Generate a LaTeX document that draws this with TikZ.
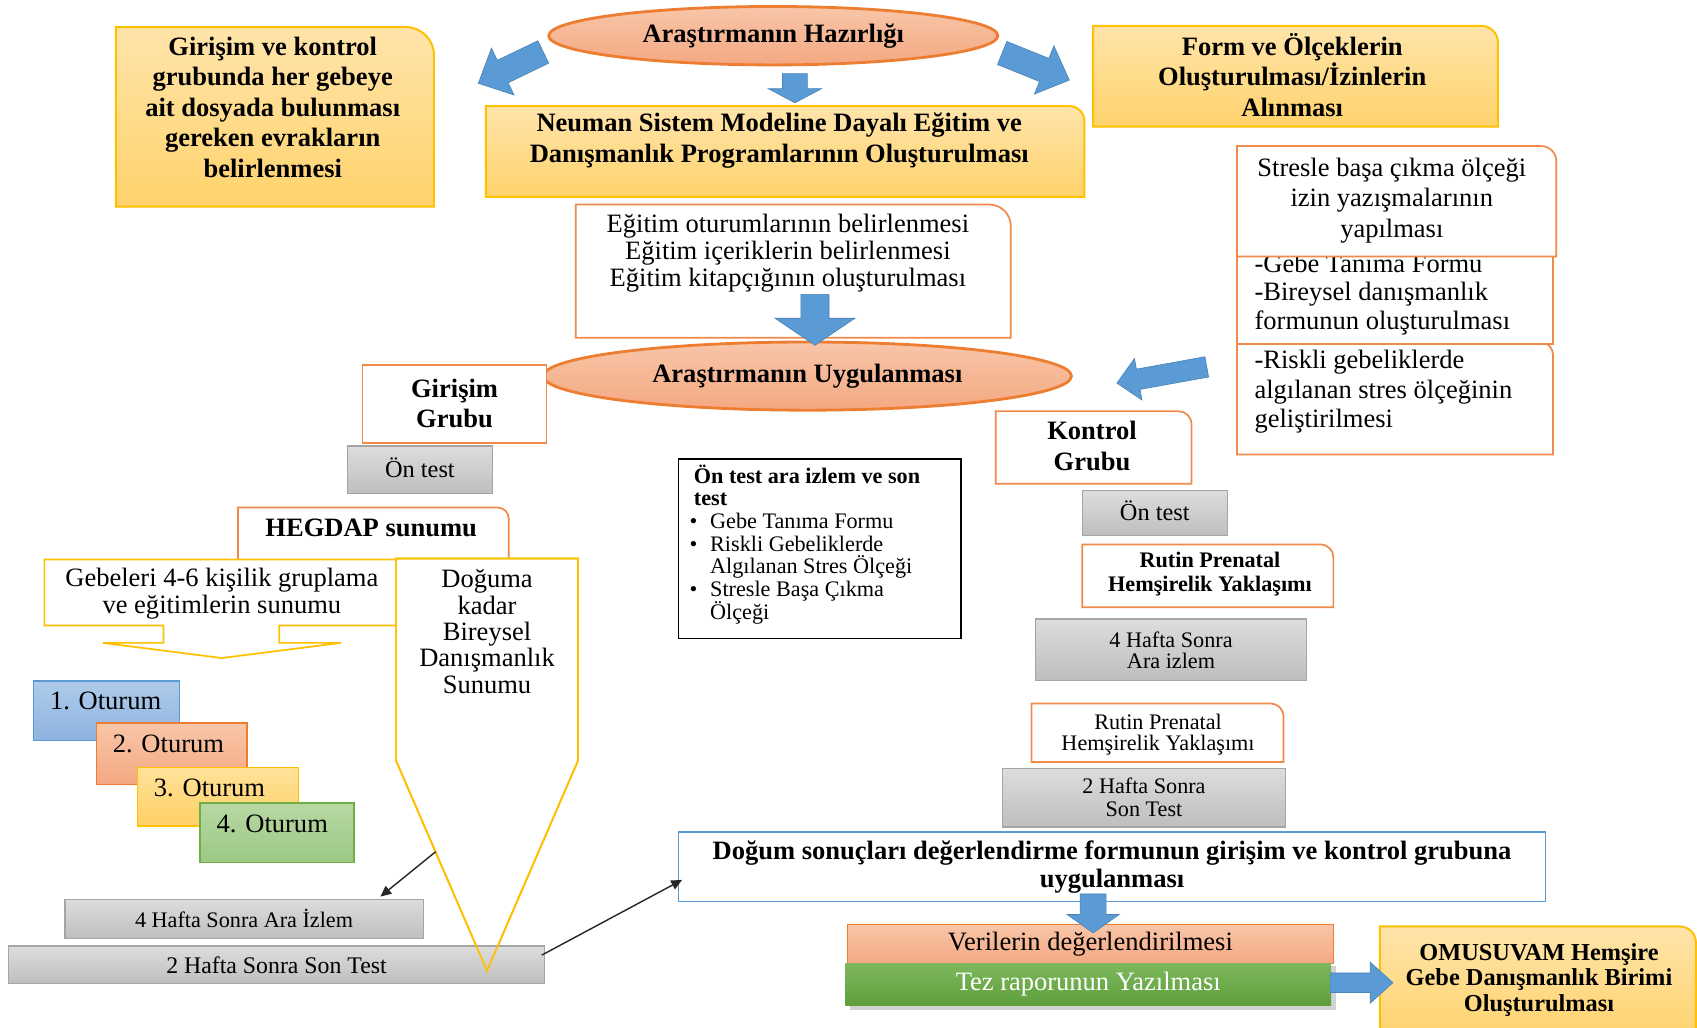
\documentclass[tikz,border=0pt]{standalone}
\usepackage{fontspec}
\setmainfont{Liberation Serif}
\usetikzlibrary{shapes.geometric,arrows.meta,calc}

\definecolor{goldB}{HTML}{FFC000}
\definecolor{goldT}{HTML}{FFE4AA}
\definecolor{goldD}{HTML}{FFD36C}
\definecolor{orB}{HTML}{ED7D31}
\definecolor{orL}{HTML}{F08A4B}
\definecolor{salT}{HTML}{F8C6A8}
\definecolor{salD}{HTML}{F4A882}
\definecolor{grT}{HTML}{DDDDDD}
\definecolor{grD}{HTML}{BEBEBE}
\definecolor{grB}{HTML}{A5A5A5}
\definecolor{blA}{HTML}{5B9BD5}
\definecolor{blB}{HTML}{4A84BA}
\definecolor{blT}{HTML}{AECBEA}
\definecolor{blD}{HTML}{8FB3E0}
\definecolor{gnB}{HTML}{70AD47}
\definecolor{gnT}{HTML}{B7D8A2}
\definecolor{gnD}{HTML}{9CC985}
\definecolor{tzT}{HTML}{7DB85C}
\definecolor{tzD}{HTML}{5E9E3B}
\definecolor{otgT}{HTML}{FFE29A}
\definecolor{otgD}{HTML}{FFD064}

\newcommand\rtbox[6]{\path[#1] (#2,#5) -- (#2,#3) -- ({#4-#6},#3) arc[start angle=90,end angle=0,radius=#6pt] -- (#4,#5) -- cycle;}
\newcommand\blockarrow[7]{%
 \pgfmathsetmacro\baAng{atan2(-((#4)-(#2)),(#3)-(#1))}%
 \pgfmathsetmacro\baLen{veclen((#3)-(#1),(#4)-(#2))}%
 \path[barrowst,shift={(#1,#2)},rotate=\baAng] (0,#5) -- ({\baLen-#7},#5) -- ({\baLen-#7},#6) -- (\baLen,0) -- ({\baLen-#7},-#6) -- ({\baLen-#7},-#5) -- (0,-#5) -- cycle;}

\begin{document}
\begin{tikzpicture}[x=1pt,y=-1pt,
 goldbox/.style={draw=goldB,line width=1.8pt,top color=goldT,bottom color=goldD},
 orbox/.style={draw=orL,line width=1.6pt,fill=white},
 yelout/.style={draw=goldB,line width=1.6pt,fill=white},
 graybox/.style={draw=grB,line width=1.2pt,top color=grT,bottom color=grD,inner sep=0pt},
 barrowst/.style={fill=blA,draw=blB,line width=0.6pt},
 ell/.style={ellipse,draw=orB,line width=2.6pt,top color=salT,bottom color=salD,inner sep=0pt},
 txt/.style={inner sep=0pt,align=center},
 bigb/.style={font=\fontsize{24.5}{28.2}\selectfont\bfseries},
 bigr/.style={font=\fontsize{24.5}{28.2}\selectfont},
 blk/.style={-{Triangle[length=10pt,width=9pt]},line width=1.3pt,black!85}
]
\useasboundingbox (0,0) rectangle (1568,949);
\fill[white] (0,0) rectangle (1568,949);

% ---------- top row ----------
\rtbox{goldbox}{107}{25}{401}{191}{26}
\node[txt,bigb] (tA) at (252,99) {Girişim ve kontrol\\grubunda her gebeye\\ait dosyada bulunması\\gereken evrakların\\belirlenmesi};
\node[ell,bigb,minimum width=415pt,minimum height=54pt] (hz) at (714.5,33) {\raisebox{-2pt}{Araştırmanın Hazırlığı}};
\rtbox{goldbox}{449}{98}{1002}{182}{14}
\node[txt,bigb] (tB) at (720,130) {Neuman Sistem Modeline Dayalı Eğitim ve\\Danışmanlık Programlarının Oluşturulması};
\rtbox{goldbox}{1010}{24}{1384}{117}{15}
\node[txt,bigb] (tC) at (1194,69) {Form ve Ölçeklerin\\Oluşturulması/İzinlerin\\Alınması};
\blockarrow{502}{48}{442}{77}{11.5}{24}{25}
\blockarrow{734.5}{68}{734.5}{95}{11.5}{24.5}{13}
\blockarrow{926}{49}{988}{74}{11.5}{24}{25}

% ---------- education box and application ellipse ----------
\rtbox{orbox}{532}{189}{934}{312}{20}
\node[txt,font=\fontsize{24.5}{25}\selectfont] (tD) at (728,234) {Eğitim oturumlarının belirlenmesi\\Eğitim içeriklerin belirlenmesi\\Eğitim kitapçığının oluşturulması};
\node[ell,bigb,minimum width=488pt,minimum height=63pt] (uy) at (746,347.5) {Araştırmanın Uygulanması};
\blockarrow{753}{272}{753}{319}{13}{37}{25}

% ---------- right stack ----------
\rtbox{orbox}{1143}{316}{1435}{420}{12}
\node[txt,align=left,font=\fontsize{24.5}{27}\selectfont,anchor=west] (tE3) at (1159,362) {-Riskli gebeliklerde\\algılanan stres ölçeğinin\\geliştirilmesi};
\path[orbox] (1143,226) rectangle (1435,318);
\node[txt,align=left,font=\fontsize{24.5}{26.5}\selectfont,anchor=west] (tE2) at (1159,272) {-Gebe Tanıma Formu\\-Bireysel danışmanlık\\formunun oluşturulması};
\rtbox{orbox}{1143}{135}{1438}{237}{14}
\node[txt,bigr] (tE1) at (1286,185) {Stresle başa çıkma ölçeği\\izin yazışmalarının\\yapılması};
\blockarrow{1115}{339}{1032}{354}{9.5}{19.5}{20}

% ---------- intervention group ----------
\node[draw=orL,line width=1.6pt,fill=white,minimum width=170pt,minimum height=72pt,txt,bigb] (gg) at (420,373) {Girişim\\Grubu};
\node[graybox,minimum width=134pt,minimum height=44pt,font=\fontsize{22.5}{25}\selectfont] (ot1) at (388,434) {\raisebox{4pt}{Ön test}};
\rtbox{orbox}{220}{469}{470}{524}{10}
\node[txt,bigb] (thg) at (343,488) {HEGDAP sunumu};
\path[yelout] (41,517) -- (380,517) -- (380,578) -- (258,578) -- (258,594) -- (315,594) -- (205,608) -- (95,594) -- (151,594) -- (151,578) -- (41,578) -- cycle;
\node[txt,font=\fontsize{24.5}{25}\selectfont] (tgb) at (205,548.5) {Gebeleri 4-6 kişilik gruplama\\ve eğitimlerin sunumu};
\path[yelout] (366,516) -- (534,516) -- (534,703) -- (450,897) -- (366,703) -- cycle;
\node[txt,font=\fontsize{24.5}{24.3}\selectfont] (tdg) at (450,583.5) {Doğuma\\kadar\\Bireysel\\Danışmanlık\\Sunumu};

\path[draw=blA,line width=1.4pt,top color=blT,bottom color=blD] (31,629) rectangle (166,684);
\node[anchor=west,inner sep=0pt,bigr] (o1) at (46,648) {1. Oturum};
\path[draw=orB,line width=1.4pt,top color=salT,bottom color=salD] (89,668) rectangle (228,725);
\node[anchor=west,inner sep=0pt,bigr] (o2) at (104,687) {2. Oturum};
\path[draw=goldB,line width=1.4pt,top color=otgT,bottom color=otgD] (127,709) rectangle (276,763);
\node[anchor=west,inner sep=0pt,bigr] (o3) at (142,728) {3. Oturum};
\path[draw=gnB,line width=1.4pt,top color=gnT,bottom color=gnD] (185,742) rectangle (327,797);
\node[anchor=west,inner sep=0pt,bigr] (o4) at (200,761) {4. Oturum};

\node[graybox,minimum width=331pt,minimum height=36pt,font=\fontsize{20.5}{22}\selectfont] (h4) at (225.5,849) {\raisebox{1pt}{4 Hafta Sonra Ara İzlem}};
\node[graybox,minimum width=495pt,minimum height=35pt,font=\fontsize{22}{24}\selectfont] (s2) at (255.5,891.5) {2 Hafta Sonra Son Test};
\path[draw=goldB,line width=1.6pt] (366,516) -- (534,516) -- (534,703) -- (450,897) -- (366,703) -- cycle;

% ---------- middle list ----------
\path[draw=black,line width=1.5pt,fill=white] (627,424) rectangle (888,590);
\node[anchor=west,inner sep=0pt,align=left,font=\fontsize{20.5}{21}\selectfont] (lst) at (634,503) {\hspace*{7pt}\textbf{Ön test ara izlem ve son}\\
\hspace*{7pt}\textbf{test}\\
\makebox[22pt][l]{\hspace{3pt}\textbullet}Gebe Tanıma Formu\\
\makebox[22pt][l]{\hspace{3pt}\textbullet}Riskli Gebeliklerde\\
\hspace*{22pt}Algılanan Stres Ölçeği\\
\makebox[22pt][l]{\hspace{3pt}\textbullet}Stresle Başa Çıkma\\
\hspace*{22pt}Ölçeği};

% ---------- control group ----------
\rtbox{orbox}{920}{380}{1101}{447}{12}
\node[txt,bigb] (tk) at (1009,412) {Kontrol\\Grubu};
\node[graybox,minimum width=134pt,minimum height=42pt,font=\fontsize{22.5}{25}\selectfont] (ot2) at (1067,474) {\raisebox{4pt}{Ön test}};
\rtbox{orbox}{1000}{503}{1232}{561}{12}
\node[txt,font=\fontsize{20.5}{22.5}\selectfont\bfseries] (rp1) at (1118,530.5) {Rutin Prenatal\\Hemşirelik Yaklaşımı};
\node[graybox,minimum width=250pt,minimum height=57pt,font=\fontsize{20.5}{19.5}\selectfont,align=center] (h4r) at (1082,600.5) {4 Hafta Sonra\\Ara izlem};
\rtbox{orbox}{953}{650}{1186}{704}{12}
\node[txt,font=\fontsize{20.5}{19.5}\selectfont] (rp2) at (1070,679) {Rutin Prenatal\\Hemşirelik Yaklaşımı};
\node[graybox,minimum width=262pt,minimum height=54pt,font=\fontsize{20.5}{21.5}\selectfont,align=center] (s2r) at (1057,737) {2 Hafta Sonra\\Son Test};

% ---------- bottom ----------
\node[draw=blA,line width=1.5pt,fill=white,minimum width=801pt,minimum height=64pt,txt,font=\fontsize{24.5}{25.5}\selectfont\bfseries] (dg) at (1027.5,801) {Doğum sonuçları değerlendirme formunun girişim ve kontrol grubuna\\uygulanması};
\node[draw=orB,line width=1.2pt,top color=salT,bottom color=salD,minimum width=449pt,minimum height=36pt,txt,bigr] (vd) at (1007.5,872.5) {\raisebox{-2pt}{Verilerin değerlendirilmesi}};
\blockarrow{1010}{826}{1010}{862}{12}{24}{17}
\fill[black!35,opacity=0.5] (785,893) rectangle (1234,933);
\node[top color=tzT,bottom color=tzD,minimum width=449pt,minimum height=39pt,txt,bigr,text=white] (tz) at (1005.5,909.5) {\raisebox{-2pt}{Tez raporunun Yazılması}};
\rtbox{goldbox}{1275}{856}{1567}{962}{15}
\node[txt,font=\fontsize{22.5}{23.5}\selectfont\bfseries] (om) at (1422,905.5) {OMUSUVAM Hemşire\\Gebe Danışmanlık Birimi\\Oluşturulması};
\blockarrow{1229}{908}{1287}{908}{9}{19}{21}

% ---------- thin connectors ----------
\coordinate (dgside) at (402.5,787);
\draw[blk] (dgside) -- ([xshift=126pt,yshift=2pt]h4.north);
\draw[blk] ([xshift=-3pt,yshift=9pt]s2.east) -- ([xshift=4pt,yshift=-12pt]dg.west);
\end{tikzpicture}
\end{document}
